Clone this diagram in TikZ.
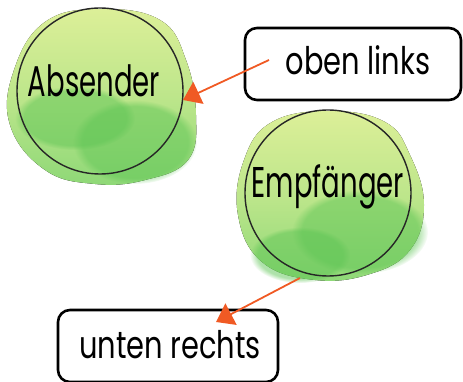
\documentclass[tikz,border=0pt]{standalone}
\usepackage{fontspec}
\newfontfamily\hand[FakeStretch=0.64]{Poppins}
\newfontfamily\handbox[FakeStretch=0.76]{Poppins}
\definecolor{limetop}{HTML}{DCEF98}
\definecolor{greenbot}{HTML}{8ED877}
\definecolor{greenpatch}{HTML}{5EC555}
\definecolor{arrowc}{HTML}{F05A24}
\usetikzlibrary{arrows.meta,fadings}
\tikzset{
  blob/.style={top color=limetop, bottom color=greenbot, middle color=limetop!60!greenbot, draw=none},
  patch/.style={fill=greenpatch, opacity=0.5, path fading=circle with fuzzy edge 15 percent},
  ring/.style={circle, draw=black!85, line width=1.4pt, minimum size=166pt, inner sep=0pt},
  circtext/.style={font=\hand\fontsize{43}{43}\selectfont, inner sep=0pt, anchor=base},
  label box/.style={draw=black, line width=2.6pt, rounded corners=12pt, inner sep=0pt},
  boxtext/.style={font=\handbox\fontsize{38}{38}\selectfont, inner sep=0pt, anchor=base},
  pointer/.style={draw=arrowc, line width=1.8pt, -{Triangle[length=17pt,width=24pt]}}
}
\begin{document}
\begin{tikzpicture}[x=1pt,y=-1pt]
\useasboundingbox (0,0) rectangle (463,382);
% blobs
\fill[blob] plot[smooth cycle, tension=0.7] coordinates {(14,70) (45,22) (100,9) (160,20) (186,60) (196,115) (188,160) (145,180) (95,184) (45,170) (10,125)};
\fill[patch] (75,118) ellipse (60pt and 32pt);
\fill[patch] (135,142) ellipse (62pt and 42pt);
\fill[blob] plot[smooth cycle, tension=0.7] coordinates {(244,160) (272,122) (330,111) (385,122) (410,155) (424,205) (410,250) (370,274) (315,280) (262,262) (238,215)};
\fill[patch] (360,232) ellipse (68pt and 42pt);
\fill[patch] (300,255) ellipse (50pt and 28pt);
% circles
\node[ring] (abs) at (100,91) {};
\node[ring] (emp) at (328,193) {};
\node[circtext] (abst) at (94,97) {Absender};
\node[circtext] (empt) at (328,198) {Empfänger};
% boxes
\node[label box, minimum width=216pt, minimum height=72pt] (ol) at (353,64) {};
\node[label box, minimum width=220pt, minimum height=72pt] (ur) at (168,346) {};
\node[boxtext] (olt) at (358,75) {oben links};
\node[boxtext] (urt) at (170,358) {unten rechts};
% arrows
\coordinate (s1) at (269,60);
\coordinate (t1) at (183,100);
\coordinate (s2) at (300,278);
\coordinate (t2) at (216,322);
\draw[pointer] (s1) -- (t1);
\draw[pointer] (s2) -- (t2);
\end{tikzpicture}
\end{document}
